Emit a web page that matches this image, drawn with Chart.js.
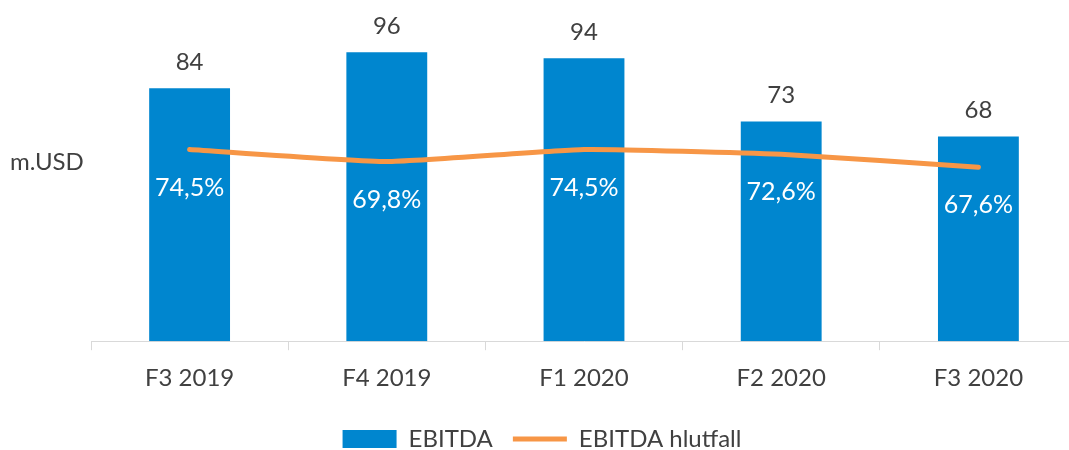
<!DOCTYPE html>
<html>
<head>
<meta charset="utf-8">
<script src="https://cdn.jsdelivr.net/npm/chart.js@4"></script>
<style>
    html, body { margin: 0; padding: 0; background: #fff; overflow: hidden; }
    #wrap { position: relative; width: 1084px; height: 461px; }
</style>
</head>
<body>
<div id="wrap"><canvas id="chart"></canvas></div>
<script>
const categories = ['F3 2019', 'F4 2019', 'F1 2020', 'F2 2020', 'F3 2020'];
const ebitda = [84, 96, 94, 73, 68];
const ebitdaRatio = [74.5, 69.8, 74.5, 72.6, 67.6];
const ratioLabels = ['74,5%', '69,8%', '74,5%', '72,6%', '67,6%'];
const unitLabel = 'm.USD';

const textColor = '#404040';
const font = "Lato, 'Open Sans', sans-serif";

// value labels above the bars, percentages under the line points
const labelPlugin = {
    id: 'labels',
    afterDatasetsDraw(chart) {
        const ctx = chart.ctx;
        ctx.save();
        ctx.textAlign = 'center';
        ctx.textBaseline = 'middle';

        ctx.font = '24px ' + font;
        chart.getDatasetMeta(0).data.forEach((bar, i) => {
            ctx.fillStyle = textColor;
            ctx.fillText(String(ebitda[i]), bar.x, bar.y - 26);
        });
        ctx.font = '25px ' + font;
        chart.getDatasetMeta(1).data.forEach((pt, i) => {
            ctx.fillStyle = '#ffffff';
            ctx.fillText(ratioLabels[i], pt.x, pt.y + 38);
        });

        ctx.font = '24px ' + font;
        ctx.textAlign = 'left';
        ctx.fillStyle = textColor;
        ctx.fillText(unitLabel, 10, 162);
        ctx.restore();
    }
};

// hidden value axes, only used to reserve side space
const hiddenAxis = (pos, width, max) => ({
    position: pos,
    min: 0,
    max: max,
    grid: { display: false },
    border: { display: false },
    ticks: { display: false },
    afterFit: (scale) => { scale.width = width; }
});

const ctx = document.getElementById('chart').getContext('2d');
new Chart(ctx, {
    type: 'bar',
    data: {
        labels: categories,
        datasets: [{
            type: 'bar',
            label: 'EBITDA',
            data: ebitda,
            backgroundColor: '#0086CF',
            categoryPercentage: 1,
            barPercentage: 0.41,
            yAxisID: 'y',
            order: 1,
            pointStyle: 'rect'
        }, {
            type: 'line',
            label: 'EBITDA hlutfall',
            data: ebitdaRatio,
            borderColor: '#F79646',
            backgroundColor: '#F79646',
            borderWidth: 5,
            borderCapStyle: 'round',
            tension: 0.15,
            pointRadius: 0,
            pointHoverRadius: 0,
            yAxisID: 'y2',
            order: 0,
            pointStyle: 'line'
        }]
    },
    options: {
        responsive: true,
        maintainAspectRatio: false,
        animation: false,
        layout: { padding: { left: 0, right: 0, top: 10, bottom: 0 } },
        scales: {
            x: {
                offset: true,
                border: { color: '#d9d9d9', width: 1 },
                grid: { offset: true, drawOnChartArea: false, color: '#d9d9d9', tickLength: 9 },
                ticks: { color: textColor, font: { family: font, size: 24 }, padding: 14 }
            },
            y: hiddenAxis('left', 91, 110),
            y2: hiddenAxis('right', 7, 128.7)
        },
        plugins: {
            legend: {
                position: 'bottom',
                labels: {
                    usePointStyle: true,
                    pointStyleWidth: 54,
                    boxHeight: 18,
                    padding: 20,
                    color: textColor,
                    font: { family: font, size: 24 },
                    sort: (a, b) => a.datasetIndex - b.datasetIndex
                }
            },
            tooltip: { enabled: false }
        }
    },
    plugins: [labelPlugin]
});
</script>
</body>
</html>
